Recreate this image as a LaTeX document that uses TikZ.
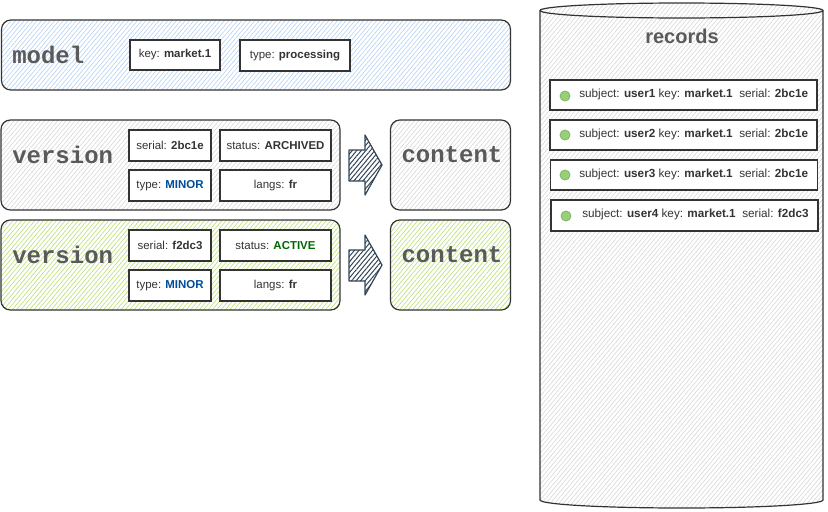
\documentclass[tikz,border=0pt]{standalone}
\usepackage{fontspec}
\setmainfont{Liberation Sans}
\setmonofont{Liberation Mono}
\usetikzlibrary{patterns.meta}
\definecolor{ink}{HTML}{333333}
\definecolor{titlec}{HTML}{5A5A5A}
\definecolor{blueh}{HTML}{B4D0F2}
\definecolor{grayh}{HTML}{D6D6D6}
\definecolor{greenh}{HTML}{B9DE73}
\definecolor{arrowc}{HTML}{314354}
\definecolor{minorc}{HTML}{004C99}
\definecolor{activec}{HTML}{006600}
\definecolor{dotfill}{HTML}{97D077}
\definecolor{dotline}{HTML}{82B366}
\tikzset{
  sz/.style 2 args={minimum width=#1*0.75pt, minimum height=#2*0.75pt},
  hatch/.style={pattern={Lines[angle=50,distance=2.5pt,line width=0.45pt]}, pattern color=#1},
  outer/.style={draw=ink, line width=0.9pt, rounded corners=7pt, inner sep=0pt},
  field/.style={draw=ink, line width=0.85pt, fill=white, inner sep=0pt, text=ink, font=\fontsize{8.6}{10}\selectfont},
  title/.style={inner sep=0pt, text=titlec, font=\ttfamily\bfseries\fontsize{18}{20}\selectfont},
  blockarrow/.style={draw=arrowc, line width=0.9pt, pattern={Lines[angle=50,distance=2.6pt,line width=0.75pt]}, pattern color=arrowc, line join=round},
  rec/.style={draw=ink, line width=0.85pt, fill=white, inner sep=0pt},
  rectext/.style={inner sep=0pt, text=ink, font=\fontsize{8.8}{10}\selectfont, anchor=west},
  dot/.style={circle, draw=dotline, fill=dotfill, line width=0.6pt, inner sep=0pt, minimum size=7.5pt},
}
\begin{document}
\begin{tikzpicture}[x=0.75pt,y=-0.75pt]
\useasboundingbox (0,0) rectangle (828,511);

% model
\node[outer, hatch=blueh, sz={509}{70}] (model) at (256,55) {};
\node[title, anchor=west] (modelt) at (12,55) {model};
\node[field, sz={90}{30}] (mkey) at (175,55) {key: \textbf{market.1}};
\node[field, sz={110}{31}] (mtype) at (295,55.5) {type: \textbf{processing}};

% version 1
\node[outer, hatch=grayh, sz={339}{90}] (v1) at (170.5,165) {};
\node[title, anchor=west] (v1t) at (12,155) {version};
\node[field, sz={82}{31}] (v1serial) at (170,145.5) {serial: \textbf{2bc1e}};
\node[field, sz={111}{31}] (v1status) at (275.5,145.5) {status: \textbf{ARCHIVED}};
\node[field, sz={82}{31}] (v1type) at (170,185.5) {type: \textbf{\color{minorc}MINOR}};
\node[field, sz={111}{31}] (v1langs) at (275.5,185.5) {langs: \textbf{fr}};
\node[outer, hatch=grayh, sz={120}{90}] (c1) at (450.5,165) {};
\node[title] (c1t) at (452,155) {content};
\draw[blockarrow] (349,150) -- (365,150) -- (365,135) -- (382,165) -- (365,195) -- (365,181) -- (349,181) -- cycle;

% version 2
\node[outer, hatch=greenh, sz={339}{90}] (v2) at (170.5,265) {};
\node[title, anchor=west] (v2t) at (12,255) {version};
\node[field, sz={82}{31}] (v2serial) at (170,245.5) {serial: \textbf{f2dc3}};
\node[field, sz={111}{31}] (v2status) at (275.5,245.5) {status: \textbf{\color{activec}ACTIVE}};
\node[field, sz={82}{31}] (v2type) at (170,285.5) {type: \textbf{\color{minorc}MINOR}};
\node[field, sz={111}{31}] (v2langs) at (275.5,285.5) {langs: \textbf{fr}};
\node[outer, hatch=greenh, sz={120}{90}] (c2) at (450.5,265) {};
\node[title] (c2t) at (452,255) {content};
\draw[blockarrow] (349,250) -- (365,250) -- (365,235) -- (382,265) -- (365,295) -- (365,281) -- (349,281) -- cycle;

% records cylinder
\draw[draw=ink, line width=0.9pt, hatch=grayh]
  (540,10.5) -- (540,500) arc[start angle=180, end angle=0, x radius=141.5, y radius=8]
  -- (823,10.5) arc[start angle=0, end angle=-180, x radius=141.5, y radius=7.5] -- cycle;
\draw[draw=ink, line width=0.9pt] (540,10.5) arc[start angle=180, end angle=0, x radius=141.5, y radius=7.5];
\node[inner sep=0pt, text=titlec, font=\bfseries\fontsize{15}{17}\selectfont] (recordst) at (682,36) {records};

\node[rec, sz={267}{30}] (r1) at (683.5,95) {};
\node[dot] (d1) at (565,96) {};
\node[rectext] (t1) at (579,94) {subject: \textbf{user1} key: \textbf{market.1}\ \ serial: \textbf{2bc1e}};

\node[rec, sz={267}{30}] (r2) at (683.5,135) {};
\node[dot] (d2) at (565,135) {};
\node[rectext] (t2) at (579,134) {subject: \textbf{user2} key: \textbf{market.1}\ \ serial: \textbf{2bc1e}};

\node[rec, sz={267}{30}] (r3) at (684,175) {};
\node[dot] (d3) at (565,175) {};
\node[rectext] (t3) at (579,174) {subject: \textbf{user3} key: \textbf{market.1}\ \ serial: \textbf{2bc1e}};

\node[rec, sz={267}{31}] (r4) at (684.5,215.5) {};
\node[dot] (d4) at (566,216) {};
\node[rectext] (t4) at (582,214) {subject: \textbf{user4} key: \textbf{market.1}\ \ serial: \textbf{f2dc3}};
\end{tikzpicture}
\end{document}
